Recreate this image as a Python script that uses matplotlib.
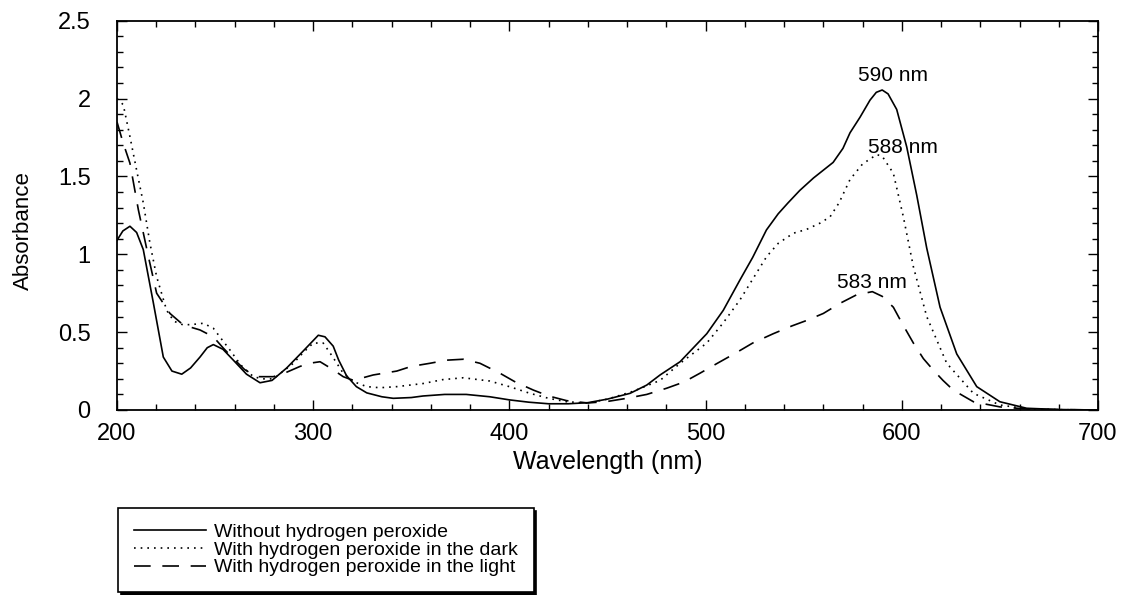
import matplotlib
matplotlib.use("Agg")
import matplotlib.pyplot as plt
from matplotlib.ticker import MultipleLocator, FuncFormatter

plt.rcParams["font.family"] = ["Liberation Sans", "DejaVu Sans"]

# UV-Vis absorbance spectra (wavelength in nm, absorbance)
wl_none = [200, 203, 206.6, 210, 213.4, 218.5, 223.6, 228, 233, 237.5, 242.3, 246,
           249.1, 254, 259.3, 266, 272.9, 279, 286.5, 295, 302.6, 306, 310.2, 313,
           317, 322, 327.3, 335, 340.8, 350, 356, 367, 378, 390, 400, 410, 420, 430,
           440, 450, 461.5, 470, 476.8, 487, 500.6, 509, 517.5, 524, 531, 537, 542,
           548, 555, 560, 565, 570, 573.6, 578.7, 583.8, 587, 590, 593, 597.4, 602.5,
           607.6, 612.7, 619.5, 628, 638.2, 650, 663.7, 680, 700]
abs_none = [1.09, 1.15, 1.18, 1.14, 1.03, 0.69, 0.34, 0.25, 0.23, 0.27, 0.34, 0.40,
            0.42, 0.39, 0.32, 0.23, 0.175, 0.19, 0.27, 0.38, 0.48, 0.47, 0.41, 0.32,
            0.22, 0.15, 0.11, 0.085, 0.075, 0.08, 0.09, 0.10, 0.10, 0.085, 0.065, 0.05,
            0.04, 0.04, 0.047, 0.07, 0.107, 0.16, 0.225, 0.31, 0.49, 0.64, 0.835, 0.98,
            1.156, 1.26, 1.33, 1.41, 1.49, 1.54, 1.59, 1.68, 1.78, 1.88, 1.99, 2.04,
            2.055, 2.03, 1.93, 1.69, 1.38, 1.04, 0.66, 0.36, 0.15, 0.053, 0.011, 0.003,
            0.0]

wl_dark = [200, 203.2, 206.6, 210, 213.4, 216.8, 220.2, 225.3, 229, 233.8, 239, 244,
           249.1, 253, 257.6, 263, 269.5, 274, 279.7, 289.9, 295, 300, 305.1, 310,
           315.3, 321, 327.3, 334, 342.6, 356, 366, 376.5, 390, 400, 410.5, 420,
           429.2, 440, 450, 463, 476.8, 487, 500.6, 509, 517.5, 524, 531.1, 537,
           544.7, 551.5, 558.3, 563.4, 568, 573.6, 580, 587.2, 590, 595.7, 600.8,
           605.9, 612.7, 622.9, 636.5, 650, 663.7, 680, 700]
abs_dark = [2.0, 1.96, 1.755, 1.54, 1.33, 1.07, 0.856, 0.64, 0.57, 0.546, 0.55, 0.557,
            0.525, 0.46, 0.385, 0.29, 0.214, 0.20, 0.20, 0.30, 0.37, 0.43, 0.43, 0.34,
            0.236, 0.18, 0.15, 0.143, 0.15, 0.17, 0.195, 0.207, 0.186, 0.15, 0.107,
            0.075, 0.053, 0.045, 0.07, 0.12, 0.19, 0.30, 0.43, 0.56, 0.707, 0.84,
            0.985, 1.07, 1.135, 1.16, 1.20, 1.24, 1.33, 1.48, 1.58, 1.64, 1.63, 1.52,
            1.24, 0.92, 0.60, 0.30, 0.107, 0.032, 0.008, 0.002, 0.0]

wl_light = [200, 203, 206.6, 210.9, 216, 220.2, 227, 233.8, 242.3, 249.1, 254, 259.3,
            265, 271.2, 279.7, 286, 293.3, 298, 303.5, 310, 315.3, 320.4, 330.6, 342.6,
            350, 359.5, 368, 376.5, 385, 395.2, 403, 412.2, 420, 429.2, 440, 450, 459.8,
            470, 480.2, 489, 497.1, 506, 515.9, 524, 534.5, 544, 551.5, 560, 568.5, 577,
            585, 590, 595.7, 600, 605.9, 611, 616, 621, 626.2, 636.5, 650, 665, 700]
abs_light = [1.85, 1.72, 1.585, 1.285, 0.985, 0.75, 0.62, 0.546, 0.514, 0.47, 0.40,
             0.33, 0.26, 0.214, 0.214, 0.24, 0.28, 0.30, 0.31, 0.26, 0.214, 0.19, 0.225,
             0.25, 0.28, 0.30, 0.32, 0.326, 0.30, 0.236, 0.18, 0.128, 0.09, 0.06, 0.045,
             0.055, 0.075, 0.10, 0.14, 0.18, 0.236, 0.30, 0.37, 0.43, 0.49, 0.54, 0.575,
             0.62, 0.685, 0.74, 0.76, 0.73, 0.66, 0.56, 0.43, 0.33, 0.257, 0.19, 0.128,
             0.053, 0.02, 0.005, 0.0]

series_labels = ["Without hydrogen peroxide",
                 "With hydrogen peroxide in the dark",
                 "With hydrogen peroxide in the light"]

peak_labels = ["590 nm", "588 nm", "583 nm"]
peak_label_pos = [(595.5, 2.145), (600.6, 1.683), (584.8, 0.816)]

fig = plt.figure(figsize=(11.22, 5.95), dpi=100)
ax = fig.add_axes([117 / 1122, 1 - 410 / 595, 981 / 1122, 389.3 / 595])

lw = 1.2
l1, = ax.plot(wl_none, abs_none, color="black", lw=lw, linestyle="-")
l2, = ax.plot(wl_dark, abs_dark, color="black", lw=lw, linestyle=(0, (1, 3)))
l3, = ax.plot(wl_light, abs_light, color="black", lw=lw, linestyle=(0, (10, 7)))

for txt, (x, y) in zip(peak_labels, peak_label_pos):
    ax.text(x, y, txt, ha="center", va="center", fontsize=15, color="black")

ax.set_xlim(200, 700)
ax.set_ylim(0, 2.5)
ax.xaxis.set_major_locator(MultipleLocator(100))
ax.xaxis.set_minor_locator(MultipleLocator(20))
ax.yaxis.set_major_locator(MultipleLocator(0.5))
ax.yaxis.set_minor_locator(MultipleLocator(0.1))
ax.yaxis.set_major_formatter(FuncFormatter(lambda v, p: f"{v:g}"))

ax.tick_params(which="both", direction="in", top=True, right=True,
               width=1.0, color="black")
ax.tick_params(which="major", length=7)
ax.tick_params(which="minor", length=4.5)
ax.tick_params(axis="x", which="major", labelsize=17, pad=9)
ax.tick_params(axis="y", which="major", labelsize=17, pad=19)
for sp in ax.spines.values():
    sp.set_linewidth(1.3)
    sp.set_color("black")

ax.set_xlabel("Wavelength (nm)", fontsize=18, labelpad=4)
fig.text(23 / 1122, 1 - 231 / 595, "Absorbance", rotation=90,
         ha="center", va="center", fontsize=16)

leg = fig.legend([l1, l2, l3], series_labels,
                 loc="upper left", bbox_to_anchor=(118 / 1122, 1 - 508 / 595),
                 bbox_transform=fig.transFigure, borderaxespad=0,
                 fontsize=14, handlelength=3.75, handletextpad=0.4,
                 labelspacing=0.0, borderpad=0.8, fancybox=False,
                 shadow={"color": "black", "alpha": 1.0}, framealpha=1.0)
leg.get_frame().set_edgecolor("black")
leg.get_frame().set_linewidth(1.2)

fig.savefig("out.png", dpi=100)
